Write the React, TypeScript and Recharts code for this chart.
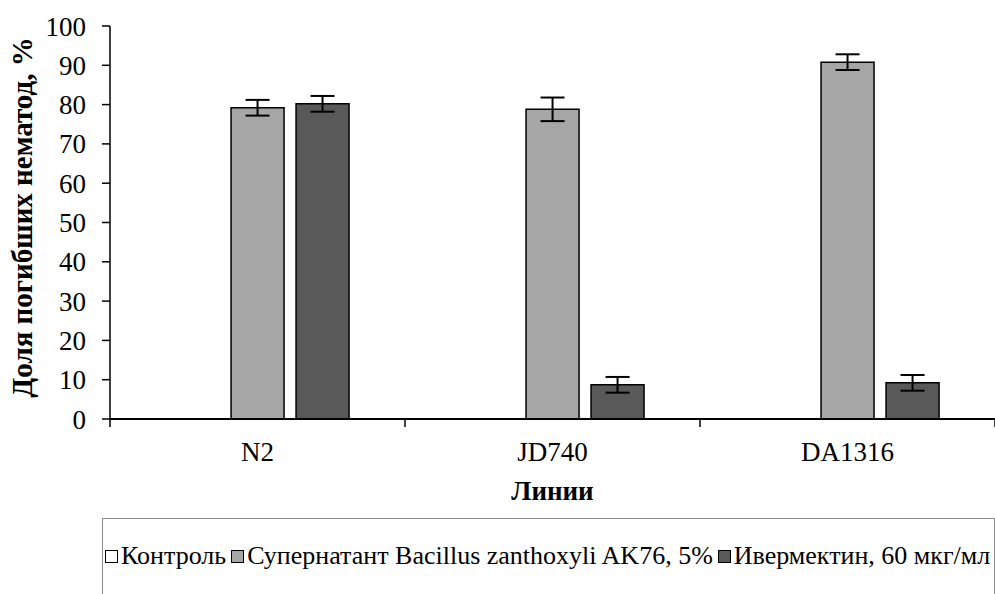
import React from "react";
import { BarChart, Bar, XAxis, YAxis, ErrorBar, Legend, Label } from "recharts";

const lines = ["N2", "JD740", "DA1316"];
const controlValues = [0, 0, 0];
const supernatantValues = [79.2, 78.8, 90.8];
const supernatantErrors = [2, 3, 2];
const ivermectinValues = [80.2, 8.7, 9.2];
const ivermectinErrors = [2, 2, 2];
const yTicks = [0, 10, 20, 30, 40, 50, 60, 70, 80, 90, 100];

const seriesNames = ["Контроль", "Супернатант Bacillus zanthoxyli AK76, 5%", "Ивермектин, 60 мкг/мл"];
const seriesColors = ["#ffffff", "#a6a6a6", "#595959"];

const data = lines.map((name, i) => ({
    name,
    control: controlValues[i],
    supernatant: supernatantValues[i],
    supernatantErr: supernatantErrors[i],
    ivermectin: ivermectinValues[i],
    ivermectinErr: ivermectinErrors[i],
}));

const FONT = "Liberation Serif, Times New Roman, serif";

function XTick(props: any) {
    const { x, y, payload, index } = props;
    const half = payload.offset ?? 0;
    const top = y - 8;
    return (
        <g>
            <line x1={x - half} y1={top} x2={x - half} y2={top + 8} stroke="#000" strokeWidth={1.5} />
            {index === lines.length - 1 && (
                <line x1={x + half} y1={top} x2={x + half} y2={top + 8} stroke="#000" strokeWidth={1.5} />
            )}
            <text x={x} y={top + 42} textAnchor="middle" style={{ fontFamily: FONT }} fontSize={27} fill="#000">
                {payload.value}
            </text>
        </g>
    );
}

function LegendBox() {
    return (
        <div
            style={{
                border: "1px solid #8c8c8c",
                height: 90,
                boxSizing: "border-box",
                display: "flex",
                alignItems: "flex-start",
                paddingTop: 22,
                paddingLeft: 2,
                fontFamily: FONT,
                fontSize: 26,
                whiteSpace: "nowrap",
                overflow: "hidden",
                color: "#000",
            }}
        >
            {seriesNames.map((n, i) => (
                <span key={n} style={{ display: "inline-flex", alignItems: "center", marginRight: 5 }}>
                    <span
                        style={{
                            display: "inline-block",
                            width: 11,
                            height: 11,
                            border: "1.5px solid #000",
                            background: seriesColors[i],
                            marginRight: 3,
                        }}
                    />
                    {n}
                </span>
            ))}
        </div>
    );
}

export default function App() {
    return (
        <div style={{ position: "absolute", left: 0, top: 0, width: 995, height: 594, overflow: "hidden", background: "#fff", fontFamily: FONT }}>
            <BarChart
                width={995}
                height={594}
                data={data}
                margin={{ top: 26, right: 0, left: 0, bottom: 115 }}
                barCategoryGap="19%"
                barGap={12}
                style={{ fontFamily: FONT }}
            >
                <YAxis
                    width={110}
                    domain={[0, 100]}
                    ticks={yTicks}
                    interval={0}
                    tickSize={8}
                    tickMargin={16}
                    axisLine={{ stroke: "#000", strokeWidth: 1.5 }}
                    tickLine={{ stroke: "#000", strokeWidth: 1.5 }}
                    tick={{ fontFamily: FONT, fontSize: 27, fill: "#000" }}
                >
                    <Label
                        content={({ viewBox }: any) => (
                            <text
                                x={viewBox.x + 32}
                                y={viewBox.y + viewBox.height / 2 - 5}
                                transform={`rotate(-90 ${viewBox.x + 32} ${viewBox.y + viewBox.height / 2 - 5})`}
                                textAnchor="middle"
                                style={{ fontFamily: FONT }}
                                fontWeight="bold"
                                fontSize={29}
                                fill="#000"
                            >
                                Доля погибших нематод, %
                            </text>
                        )}
                    />
                </YAxis>
                <XAxis
                    dataKey="name"
                    height={60}
                    interval={0}
                    tickLine={false}
                    axisLine={{ stroke: "#000", strokeWidth: 2 }}
                    tick={<XTick />}
                >
                    <Label
                        content={({ viewBox }: any) => (
                            <text
                                x={viewBox.x + viewBox.width / 2}
                                y={viewBox.y + 81}
                                textAnchor="middle"
                                style={{ fontFamily: FONT }}
                                fontWeight="bold"
                                fontSize={27}
                                fill="#000"
                            >
                                Линии
                            </text>
                        )}
                    />
                </XAxis>
                <Bar dataKey="control" name={seriesNames[0]} fill={seriesColors[0]} stroke="#000" strokeWidth={1.5} isAnimationActive={false} />
                <Bar dataKey="supernatant" name={seriesNames[1]} fill={seriesColors[1]} stroke="#000" strokeWidth={1.5} isAnimationActive={false}>
                    <ErrorBar dataKey="supernatantErr" width={12} stroke="#000" strokeWidth={2} />
                </Bar>
                <Bar dataKey="ivermectin" name={seriesNames[2]} fill={seriesColors[2]} stroke="#000" strokeWidth={1.5} isAnimationActive={false}>
                    <ErrorBar dataKey="ivermectinErr" width={12} stroke="#000" strokeWidth={2} />
                </Bar>
                <Legend
                    verticalAlign="middle"
                    align="center"
                    layout="horizontal"
                    wrapperStyle={{ left: 102, top: 518, width: 893 }}
                    content={() => <LegendBox />}
                />
            </BarChart>
        </div>
    );
}
